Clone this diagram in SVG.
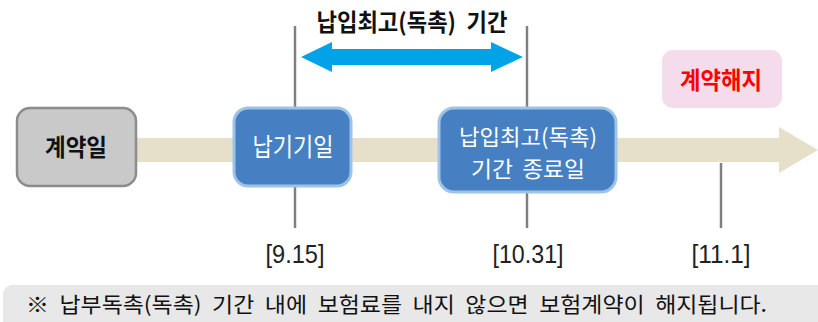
<svg xmlns="http://www.w3.org/2000/svg" width="818" height="322" viewBox="0 0 818 322">
<style>
text{font-family:"Noto Sans CJK KR","Noto Sans",sans-serif;}
.node{fill:#467fc2;stroke:#9dc3e6;stroke-width:3;}
.wt{fill:#ffffff;font-size:25px;text-anchor:middle;}
.wt2{fill:#ffffff;font-size:22px;text-anchor:middle;}
.vline{stroke:#808080;stroke-width:2.5;}
.date{fill:#222222;font-size:25px;text-anchor:middle;font-family:"Liberation Sans",sans-serif;}
</style>
<rect x="0" y="0" width="818" height="322" fill="#ffffff"/>
<g id="timeline">
<polygon points="135,138 779,138 779,127 818,150 779,173 779,162 135,162" fill="#e6e0ca"/>
</g>
<g id="connectors">
<line class="vline" x1="295" y1="26" x2="295" y2="228"/>
<line class="vline" x1="527" y1="26" x2="527" y2="228"/>
<line class="vline" x1="721" y1="163" x2="721" y2="228"/>
<polygon points="301,57 332,42 332,49 491,49 491,42 523,57 491,72 491,65 332,65 332,72" fill="#00a2e8"/>
</g>
<g id="title">
<text x="412" y="31" font-size="24" font-weight="bold" text-anchor="middle" fill="#111111" word-spacing="6" textLength="191" lengthAdjust="spacingAndGlyphs">납입최고(독촉) 기간</text>
</g>
<g id="node-contract">
<rect x="17" y="108" width="119" height="78" rx="13" fill="#c9c9c9" stroke="#8c8c8c" stroke-width="2.5"/>
<text x="76" y="156" font-size="24" font-weight="bold" text-anchor="middle" fill="#111111" textLength="62" lengthAdjust="spacingAndGlyphs">계약일</text>
</g>
<g id="node-due">
<rect class="node" x="234" y="108" width="117" height="78" rx="14"/>
<text class="wt" x="293" y="156" textLength="81" lengthAdjust="spacingAndGlyphs">납기기일</text>
</g>
<g id="node-end">
<rect class="node" x="439" y="108" width="177" height="84" rx="15"/>
<text class="wt2" x="528" y="145" textLength="138" lengthAdjust="spacingAndGlyphs">납입최고(독촉)</text>
<text class="wt2" x="528" y="177" word-spacing="4" textLength="114" lengthAdjust="spacingAndGlyphs">기간 종료일</text>
</g>
<g id="node-cancel">
<rect x="662" y="50" width="120" height="58" rx="11" fill="#f5dcec"/>
<text x="721" y="89" font-size="24" font-weight="bold" text-anchor="middle" fill="#ff0000" textLength="82" lengthAdjust="spacingAndGlyphs">계약해지</text>
</g>
<g id="dates">
<text class="date" x="295" y="263" textLength="59" lengthAdjust="spacingAndGlyphs">[9.15]</text>
<text class="date" x="528" y="263" textLength="71" lengthAdjust="spacingAndGlyphs">[10.31]</text>
<text class="date" x="721" y="263" textLength="59" lengthAdjust="spacingAndGlyphs">[11.1]</text>
</g>
<g id="note">
<rect x="3" y="285" width="830" height="50" rx="9" fill="#e8e8e8"/>
<text x="26" y="312" font-size="21" fill="#111111" word-spacing="5" textLength="741" lengthAdjust="spacingAndGlyphs">※ 납부독촉(독촉) 기간 내에 보험료를 내지 않으면 보험계약이 해지됩니다.</text>
</g>
</svg>
